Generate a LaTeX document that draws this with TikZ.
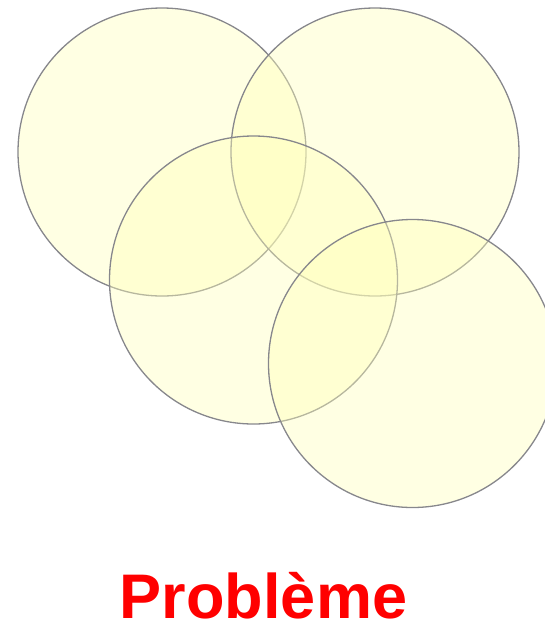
\documentclass[tikz,border=0pt]{standalone}
\usepackage{fontspec}
\setmainfont{Liberation Sans}
\usepackage{tikz}
\definecolor{cerclefond}{RGB}{255,255,185}
\definecolor{cercletrait}{RGB}{135,135,140}

\begin{document}
\begin{tikzpicture}[x=1pt, y=-1pt,
  ensemble/.style={circle, draw=cercletrait, line width=1.3pt, fill=cerclefond,
    fill opacity=0.4, minimum size=288pt, inner sep=0pt}]

\useasboundingbox (0,0) rectangle (545,622);

% les quatre ensembles
\node[ensemble] (e1) at (162,152) {};
\node[ensemble] (e2) at (375,152) {};
\node[ensemble] (e3) at (253.5,280) {};
\node[ensemble] (e4) at (412.5,363.5) {};

% titre
\node[text=red, font=\bfseries\fontsize{63}{63}\selectfont, anchor=base, inner sep=0pt] (titre) at (263.5,618) {Problème};

\end{tikzpicture}
\end{document}
